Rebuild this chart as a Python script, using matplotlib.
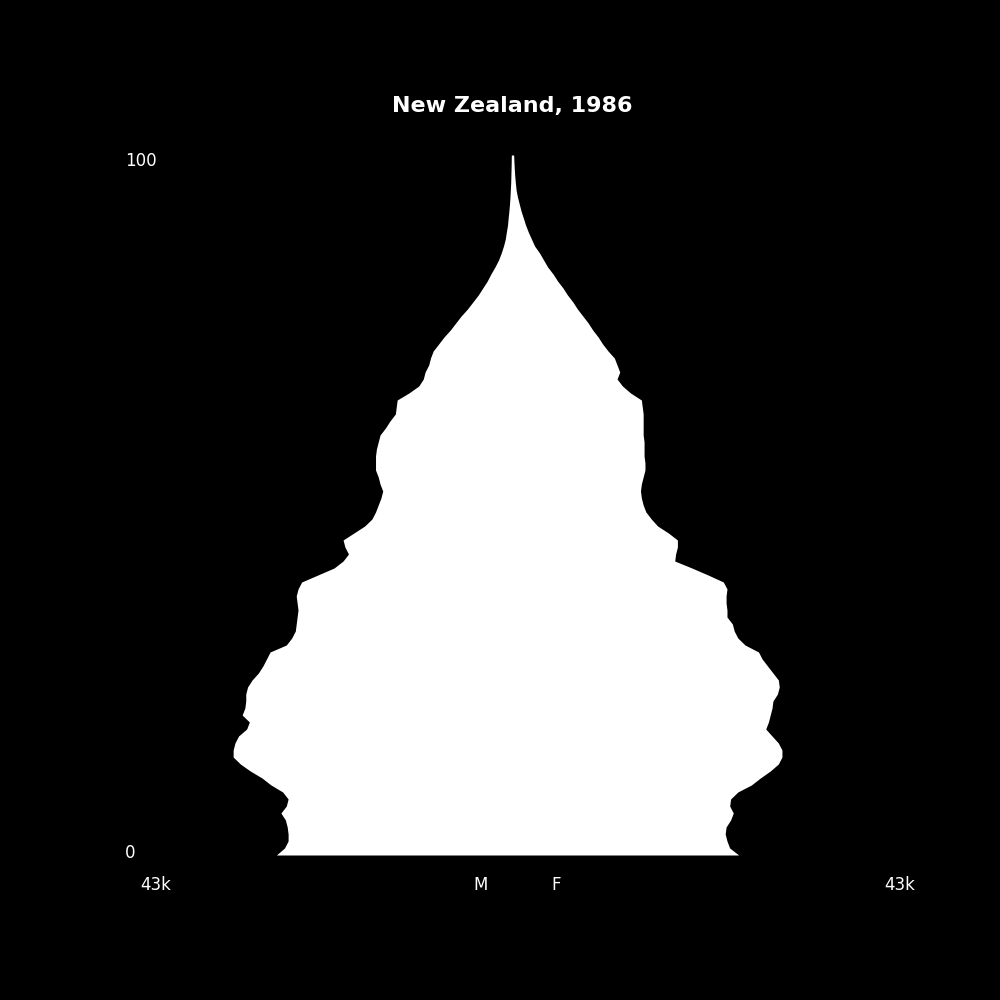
import numpy as np
import matplotlib
matplotlib.use("Agg")
import matplotlib.pyplot as plt

# population by single year of age, thousands
ages = np.arange(0, 101)
male = [26.2, 25.3, 24.9, 24.9, 25.0, 25.2, 25.7, 25.1, 24.9, 25.5,
        26.8, 27.8, 29.1, 30.2, 31.0, 31.0, 30.8, 30.4, 29.5, 29.2,
        30.0, 29.7, 29.6, 29.6, 29.4, 28.9, 28.2, 27.7, 27.3, 26.9,
        25.1, 24.5, 24.1, 24.0, 23.9, 23.8, 23.9, 24.0, 23.8, 23.4,
        21.6, 19.8, 18.8, 18.2, 18.6, 18.8, 17.6, 16.4, 15.6, 15.2,
        14.9, 14.6, 14.4, 14.7, 14.9, 15.2, 15.2, 15.2, 15.1, 14.9,
        14.7, 14.1, 13.6, 13.0, 12.9, 12.8, 11.5, 10.4, 9.9, 9.7,
        9.3, 9.1, 8.8, 8.2, 7.6, 6.9, 6.3, 5.7, 5.0, 4.4,
        3.8, 3.3, 2.8, 2.4, 1.95, 1.55, 1.25, 1.0, 0.8, 0.68,
        0.55, 0.48, 0.4, 0.33, 0.28, 0.24, 0.2, 0.18, 0.16, 0.14,
        0.13]
female = [25.1, 24.1, 23.8, 23.6, 23.7, 24.2, 24.5, 24.1, 24.2, 25.0,
          26.5, 27.5, 28.6, 29.5, 29.9, 29.9, 29.5, 28.8, 28.1, 28.4,
          28.6, 28.8, 28.9, 29.4, 29.6, 29.5, 28.9, 28.3, 27.7, 27.3,
          25.8, 25.0, 24.6, 24.4, 23.8, 23.8, 23.7, 23.7, 23.8, 23.4,
          21.7, 19.9, 18.0, 18.1, 18.3, 18.3, 17.3, 16.1, 15.4, 14.8,
          14.5, 14.3, 14.2, 14.3, 14.5, 14.7, 14.7, 14.6, 14.6, 14.6,
          14.5, 14.5, 14.5, 14.5, 14.4, 14.3, 13.1, 12.2, 11.6, 11.9,
          11.6, 11.3, 10.6, 10.0, 9.5, 8.9, 8.4, 7.8, 7.2, 6.7,
          6.1, 5.6, 5.0, 4.5, 3.9, 3.45, 3.0, 2.45, 2.1, 1.75,
          1.45, 1.2, 0.95, 0.75, 0.55, 0.4, 0.32, 0.25, 0.2, 0.16,
          0.13]
x_max = 43  # thousands

male = np.array(male)
female = np.array(female)

fig, ax = plt.subplots(figsize=(10, 10), dpi=100)
fig.patch.set_facecolor('black')
ax.set_facecolor('black')

ax.fill_betweenx(ages, -male, female, color='white', linewidth=0)
ax.set_xlim(-x_max, x_max)
ax.set_ylim(-5, 105)
ax.axis('off')

ax.set_title('New Zealand, 1986', color='white', fontsize=16, fontweight='bold')

# labels in place of ticks
ytr = ax.get_yaxis_transform()
ax.text(0, 0.35, '0', transform=ytr, color='white', fontsize=12, ha='left', va='center')
ax.text(0, 99.1, '100', transform=ytr, color='white', fontsize=12, ha='left', va='center')
ax.text(0.04, 0.0065, f'{x_max}k', transform=ax.transAxes, color='white', fontsize=12, ha='center', va='center')
ax.text(1.0, 0.0065, f'{x_max}k', transform=ax.transAxes, color='white', fontsize=12, ha='center', va='center')
ax.text(0.459, 0.0065, 'M', transform=ax.transAxes, color='white', fontsize=12, ha='center', va='center')
ax.text(0.556, 0.0065, 'F', transform=ax.transAxes, color='white', fontsize=12, ha='center', va='center')

fig.savefig('out.png', facecolor='black')
